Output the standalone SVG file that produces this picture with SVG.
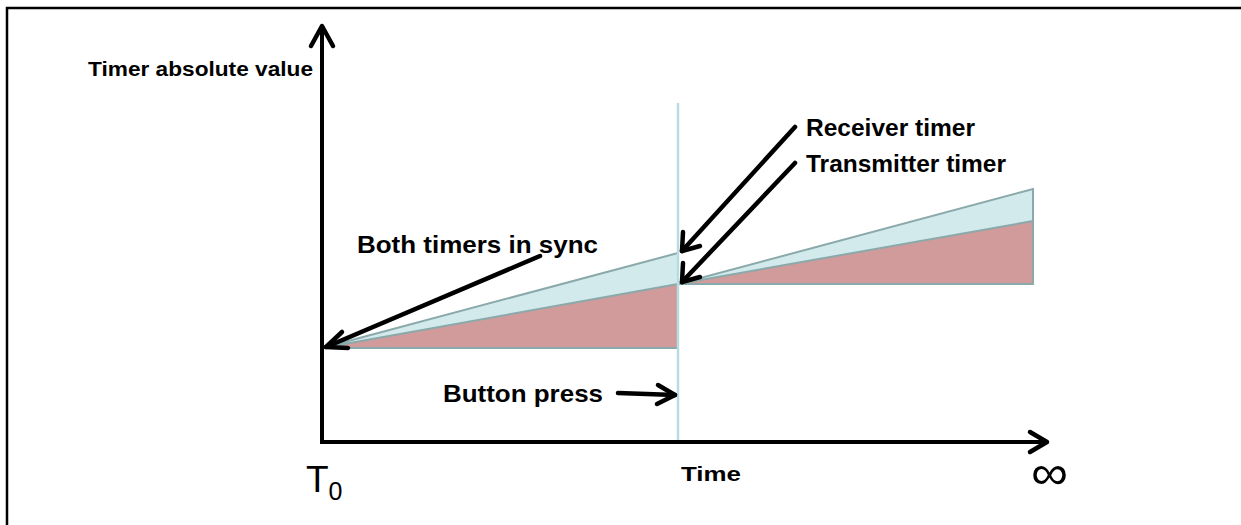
<svg xmlns="http://www.w3.org/2000/svg" width="1241" height="525" viewBox="0 0 1241 525">
  <style>
    .lbl { font-family: "Liberation Sans", Arial, sans-serif; font-weight: bold; fill: #000; }
    .reg { font-family: "Liberation Sans", Arial, sans-serif; fill: #000; }
    .axis { stroke: #000; stroke-width: 4; fill: none; stroke-linecap: butt; }
    .ptr { stroke: #000; stroke-width: 4.5; fill: none; stroke-linecap: round; stroke-linejoin: round; }
    .pink { fill: #D09B9A; }
    .blue { fill: #D3EAEC; }
    .edge { stroke: #8AA9AA; stroke-width: 2; fill: none; }
  </style>

  <rect width="1241" height="525" fill="#fff"/>
  <!-- frame: top and left edges -->
  <path d="M7 525 V8 H1241" stroke="#000" stroke-width="2.5" fill="none"/>

  <g id="timer-wedges">
    <!-- first interval -->
    <polygon class="pink" points="322,348 678,284 678,348"/>
    <polygon class="blue" points="322,348 678,253 678,284"/>
    <path class="edge" d="M322 348 H678 M322 348 L678 284 M322 348 L678 253"/>
    <!-- second interval -->
    <polygon class="pink" points="678,284 1033,221 1033,284"/>
    <polygon class="blue" points="678,284 1033,189 1033,221"/>
    <path class="edge" d="M678 284 H1033 V189 L678 284 M678 284 L1033 221"/>
  </g>

  <g id="button-press-line">
    <line x1="678" y1="103" x2="678" y2="443" stroke="#B7DDE0" stroke-width="2.5"/>
  </g>

  <g id="axes">
    <path class="axis" d="M322 444 V26 M320 442 H1046"/>
    <path class="ptr" d="M311 46 L322 26 L333 46"/>
    <path class="ptr" d="M1030 432 L1047 442 L1030 452"/>
  </g>

  <g id="connectors">
    <path class="ptr" d="M540 256 L326 347"/>
    <path class="ptr" d="M342 332 L326 347 L348 348"/>
    <path class="ptr" d="M795 127 L682 251"/>
    <path class="ptr" d="M683 232 L682 251 L700 246"/>
    <path class="ptr" d="M795 163 L682 282"/>
    <path class="ptr" d="M683 263 L682 282 L700 277"/>
    <path class="ptr" d="M618 393 L675 395"/>
    <path class="ptr" d="M658 385 L675 395 L657 404"/>
  </g>

  <g id="labels">
    <text class="lbl" x="88" y="76" font-size="20" textLength="225" lengthAdjust="spacingAndGlyphs">Timer absolute value</text>
    <text class="lbl" x="357" y="253" font-size="24" textLength="241" lengthAdjust="spacingAndGlyphs">Both timers in sync</text>
    <text class="lbl" x="806" y="136" font-size="23" textLength="169" lengthAdjust="spacingAndGlyphs">Receiver timer</text>
    <text class="lbl" x="806" y="172" font-size="23" textLength="200" lengthAdjust="spacingAndGlyphs">Transmitter timer</text>
    <text class="lbl" x="443" y="402" font-size="24" textLength="160" lengthAdjust="spacingAndGlyphs">Button press</text>
    <text class="lbl" x="681" y="481" font-size="21" textLength="60" lengthAdjust="spacingAndGlyphs">Time</text>
    <text class="reg" x="306" y="492" font-size="37">T<tspan font-size="25" dy="8">0</tspan></text>
    <text class="reg" x="1031" y="489" font-size="48" textLength="37" lengthAdjust="spacingAndGlyphs">∞</text>
  </g>
</svg>
